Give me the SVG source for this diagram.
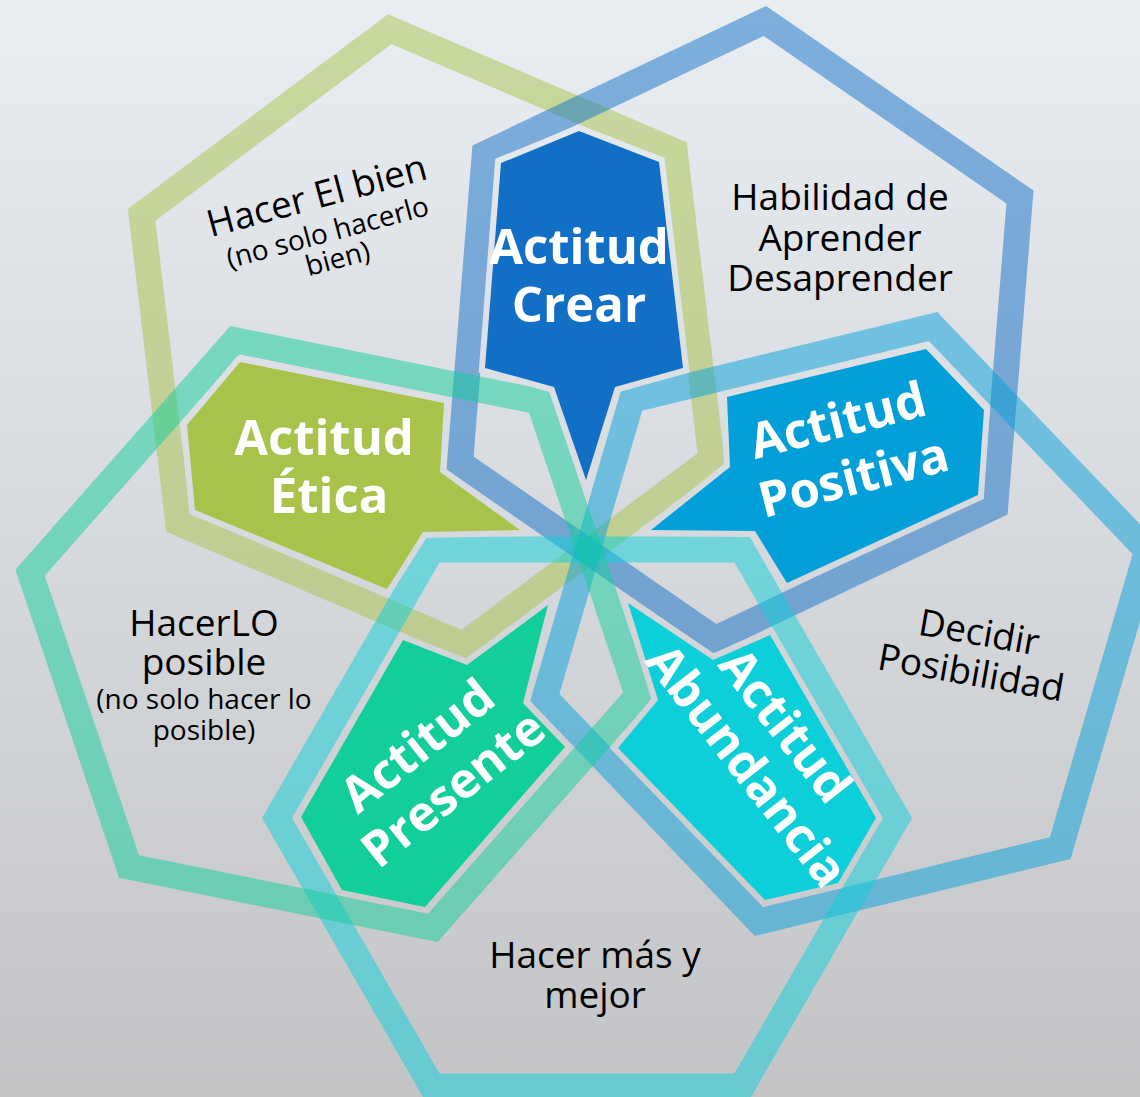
<svg xmlns="http://www.w3.org/2000/svg" width="1140" height="1097" viewBox="0 0 1140 1097">
<defs>
<linearGradient id="bg" gradientUnits="userSpaceOnUse" x1="0" y1="0" x2="0" y2="1097">
<stop offset="0" stop-color="#e9eef3"/>
<stop offset="1" stop-color="#c3c4c6"/>
</linearGradient>
<style>
.ring{fill:none;stroke-width:26;stroke-linejoin:miter;stroke-opacity:0.5}
.arrow{stroke:url(#bg);stroke-width:12;stroke-linejoin:miter;paint-order:stroke}
.att{font-family:"Open Sans","Liberation Sans",sans-serif;font-weight:700;font-size:49px;fill:#ffffff;text-anchor:middle}
.lbl{font-family:"Open Sans","Liberation Sans",sans-serif;font-size:37px;fill:#000000;text-anchor:middle}
.sm{font-size:28px}
</style>
</defs>
<rect x="0" y="0" width="1140" height="1097" fill="url(#bg)"/>
<g id="rings">
<polygon class="ring" stroke="#a7c34a" points="711.4,459.1 463.2,644.8 178.3,522.7 141.6,214.9 389.8,29.2 674.7,151.3"/>
<polygon class="ring" stroke="#126fc6" points="995.2,506.0 715.1,639.0 460.0,463.0 484.8,154.0 764.9,21.0 1020.0,197.0"/>
<polygon class="ring" stroke="#039fd9" points="1060.2,848.1 759.0,921.5 544.8,697.4 631.8,399.9 933.0,326.5 1147.2,550.6"/>
<polygon class="ring" stroke="#0ccfd9" points="897,818 742,1086.5 432,1086.5 277,818 432,549.5 742,549.5"/>
<polygon class="ring" stroke="#12ce9b" points="637.9,695.3 432.9,927.8 129.0,866.5 30.1,572.7 235.1,340.2 539.0,401.5"/>
</g>
<g id="crear">
<polygon class="arrow" fill="#126fc6" points="579,131 659,162 683,368 615,387 586,480 554,387 485,368 501,163"/>
<text class="att" x="579" y="264">Actitud</text>
<text class="att" x="579" y="322">Crear</text>
</g>
<g id="etica">
<polygon class="arrow" fill="#a7c34a" points="240,362 444,403 440,472 520,530 423,532 387,589 195,510 187,425"/>
<text class="att" x="324" y="455">Actitud</text>
<text class="att" x="329" y="513">Ética</text>
</g>
<g id="positiva">
<polygon class="arrow" fill="#039fd9" points="727,397 926,349 984,410 978,495 787,583 755,531 651,530 730,467"/>
<g transform="translate(842,437) rotate(-14.4)">
<text class="att" x="0" y="0">Actitud</text>
<text class="att" x="1" y="59">Positiva</text>
</g>
</g>
<g id="presente">
<polygon class="arrow" fill="#12ce9b" points="403,640 467,665 548,605 523,703 565,747 425,907 342,890 301,817"/>
<g transform="translate(428,759) rotate(-38.5)">
<text class="att" x="0" y="0">Actitud</text>
<text class="att" x="1" y="56">Presente</text>
</g>
</g>
<g id="abundancia">
<polygon class="arrow" fill="#0ccfd9" points="628,603 713,660 770,635 876,818 838,883 765,900 618,748 658,700"/>
<g transform="translate(772,736) rotate(52)">
<text class="att" x="0" y="0">Actitud</text>
<text class="att" x="8" y="55">Abundancia</text>
</g>
</g>
<g id="hacer-el-bien" transform="translate(320,208) rotate(-15)">
<text class="lbl" x="0" y="0">Hacer El bien</text>
<text class="lbl sm" x="1" y="35">(no solo hacerlo</text>
<text class="lbl sm" x="4" y="63">bien)</text>
</g>
<g id="habilidad">
<text class="lbl" x="840" y="210">Habilidad de</text>
<text class="lbl" x="840" y="251">Aprender</text>
<text class="lbl" x="840" y="291">Desaprender</text>
</g>
<g id="decidir" transform="translate(977,645) rotate(10)">
<text class="lbl" x="0" y="0">Decidir</text>
<text class="lbl" x="-1" y="41">Posibilidad</text>
</g>
<g id="hacerlo-posible">
<text class="lbl" x="204" y="636">HacerLO</text>
<text class="lbl" x="204" y="675">posible</text>
<text class="lbl sm" x="204" y="709">(no solo hacer lo</text>
<text class="lbl sm" x="204" y="740">posible)</text>
</g>
<g id="hacer-mas">
<text class="lbl" x="595" y="968">Hacer más y</text>
<text class="lbl" x="595" y="1008">mejor</text>
</g>
</svg>
